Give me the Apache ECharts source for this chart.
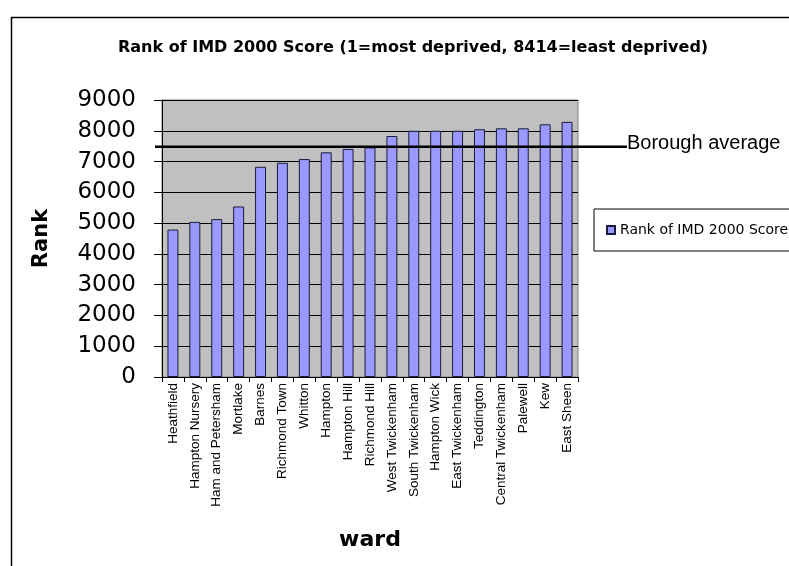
<!DOCTYPE html>
<html>
<head>
<meta charset="utf-8">
<script src="https://cdn.jsdelivr.net/npm/echarts@6/dist/echarts.min.js"></script>
<style>
html,body{margin:0;padding:0;background:#fff;}
#c{width:789px;height:566px;}
</style>
</head>
<body>
<div id="c"></div>
<script>
var wards = ["Heathfield","Hampton Nursery","Ham and Petersham","Mortlake","Barnes","Richmond Town","Whitton","Hampton","Hampton Hill","Richmond Hill","West Twickenham","South Twickenham","Hampton Wick","East Twickenham","Teddington","Central Twickenham","Palewell","Kew","East Sheen"];
var imdRank = [4790,5040,5130,5540,6830,6960,7080,7300,7410,7460,7830,8000,8000,8000,8050,8080,8080,8210,8290];
var boroughAverage = 7480;
var yTicks = [0,1000,2000,3000,4000,5000,6000,7000,8000,9000];

var FONT = "'Liberation Sans', Arial, sans-serif";
var WIDE = "'DejaVu Sans', sans-serif";
var chart = echarts.init(document.getElementById('c'), null, {renderer:'canvas'});
chart.setOption({
  animation:false,
  textStyle:{fontFamily:FONT,color:'#000'},
  title:{
    text:'Rank of IMD 2000 Score (1=most deprived, 8414=least deprived)',
    left:113, top:35,
    textStyle:{fontFamily:WIDE,fontSize:16,fontWeight:'bold',color:'#000'}
  },
  legend:{
    data:[{name:'Rank of IMD 2000 Score', icon:'rect'}],
    left:594, top:209,
    padding:[14,40,14,12],
    itemWidth:8, itemHeight:8,
    borderColor:'#000', borderWidth:1,
    textStyle:{fontFamily:WIDE,fontSize:14,color:'#000'}
  },
  graphic:[{
    type:'rect', left:9, top:15, silent:true,
    shape:{width:800,height:600},
    style:{fill:'none',stroke:'#000',lineWidth:1.5}
  }],
  grid:[
    {left:162, top:100, width:416, height:277, show:true, backgroundColor:'#C0C0C0', borderColor:'#808080', borderWidth:1},
    {left:155, top:100, width:472, height:277}
  ],
  xAxis:[
    {type:'category', gridIndex:0, data:wards,
     name:'ward', nameLocation:'middle', nameGap:152,
     nameTextStyle:{fontFamily:WIDE,fontSize:22,fontWeight:'bold',color:'#000'},
     axisLine:{lineStyle:{color:'#000',width:1}},
     axisTick:{show:true,inside:false,length:5,lineStyle:{color:'#000'}},
     axisLabel:{rotate:90,interval:0,margin:6,fontFamily:FONT,fontSize:13.5,color:'#000'}
    },
    {type:'value', gridIndex:1, min:0, max:1, show:false}
  ],
  yAxis:[
    {type:'value', gridIndex:0, min:0, max:9000, interval:1000,
     name:'Rank', nameLocation:'middle', nameGap:110,
     nameTextStyle:{fontFamily:WIDE,fontSize:21,fontWeight:'bold',color:'#000'},
     axisLine:{show:true,lineStyle:{color:'#000',width:1}},
     axisTick:{show:true,inside:false,length:8,lineStyle:{color:'#000'}},
     axisLabel:{margin:26,fontFamily:WIDE,fontSize:23,color:'#000',
       formatter:function(v){return yTicks.indexOf(v)>=0?String(v):'';}},
     splitLine:{show:true,lineStyle:{color:'#000',width:1}}
    },
    {type:'value', gridIndex:1, min:0, max:9000, show:false}
  ],
  series:[
    {name:'Rank of IMD 2000 Score', type:'bar', xAxisIndex:0, yAxisIndex:0,
     data:imdRank, barWidth:'50%',
     itemStyle:{color:'#9999FF', borderColor:'#1a1a3a', borderWidth:1}
    },
    {name:'Borough average', type:'line', xAxisIndex:1, yAxisIndex:1,
     data:[[0,boroughAverage],[1,boroughAverage]],
     symbol:'none', silent:true,
     lineStyle:{color:'#000',width:2.5},
     endLabel:{show:true, formatter:'Borough average', distance:0, offset:[0,-3],
       fontFamily:FONT, fontSize:20, color:'#000'}
    }
  ]
});
</script>
</body>
</html>
